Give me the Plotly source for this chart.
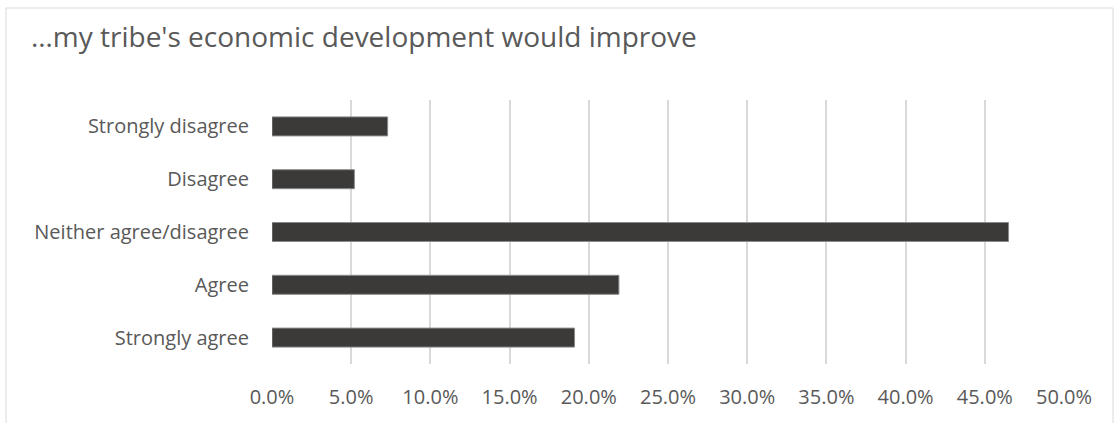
import plotly.graph_objects as go

categories = ["Strongly agree", "Agree", "Neither agree/disagree", "Disagree", "Strongly disagree"]
values = [0.191, 0.219, 0.465, 0.052, 0.073]
x_ticks = [0.0, 0.05, 0.10, 0.15, 0.20, 0.25, 0.30, 0.35, 0.40, 0.45, 0.50]
title_text = "…my tribe's economic development would improve"

W, H = 1114, 423
ML, MR, MT, MB = 272, 50, 100, 59
PW, PH = W - ML - MR, H - MT - MB

def px_x(p):
    return (p - ML) / PW

def px_y(p):
    return (H - MB - p) / PH

FONT = "Open Sans"
TXT = "#595959"

fig = go.Figure(go.Bar(
    y=categories, x=values, orientation="h",
    marker=dict(color="#3b3a39", line=dict(color="#8a8a8a", width=1)),
))

fig.update_layout(
    width=W, height=H,
    margin=dict(l=ML, r=MR, t=MT, b=MB),
    paper_bgcolor="white", plot_bgcolor="white",
    bargap=0.64,
    showlegend=False,
    font=dict(family=FONT, color=TXT, size=20),
    title=dict(text=title_text, x=31 / W, xref="container", xanchor="left",
               y=1 - 37 / H, yref="container", yanchor="middle",
               font=dict(family=FONT, size=28, color=TXT)),
    xaxis=dict(range=[0, 0.5], tickvals=x_ticks, tickformat=".1%",
               showgrid=True, gridcolor="#d9d9d9", gridwidth=1.5,
               zeroline=False, showline=False, ticks="",
               ticklabelstandoff=19,
               tickfont=dict(family=FONT, size=20, color=TXT)),
    yaxis=dict(categoryorder="array", categoryarray=categories,
               showgrid=False, zeroline=False, showline=False, ticks="",
               ticklabelstandoff=22,
               tickfont=dict(family=FONT, size=20, color=TXT)),
    shapes=[dict(type="rect", xref="paper", yref="paper",
                 x0=px_x(6), x1=px_x(1113), y0=px_y(440), y1=px_y(8),
                 line=dict(color="#d9d9d9", width=1), fillcolor="rgba(0,0,0,0)",
                 layer="below")],
)

fig.write_html("out.html")
